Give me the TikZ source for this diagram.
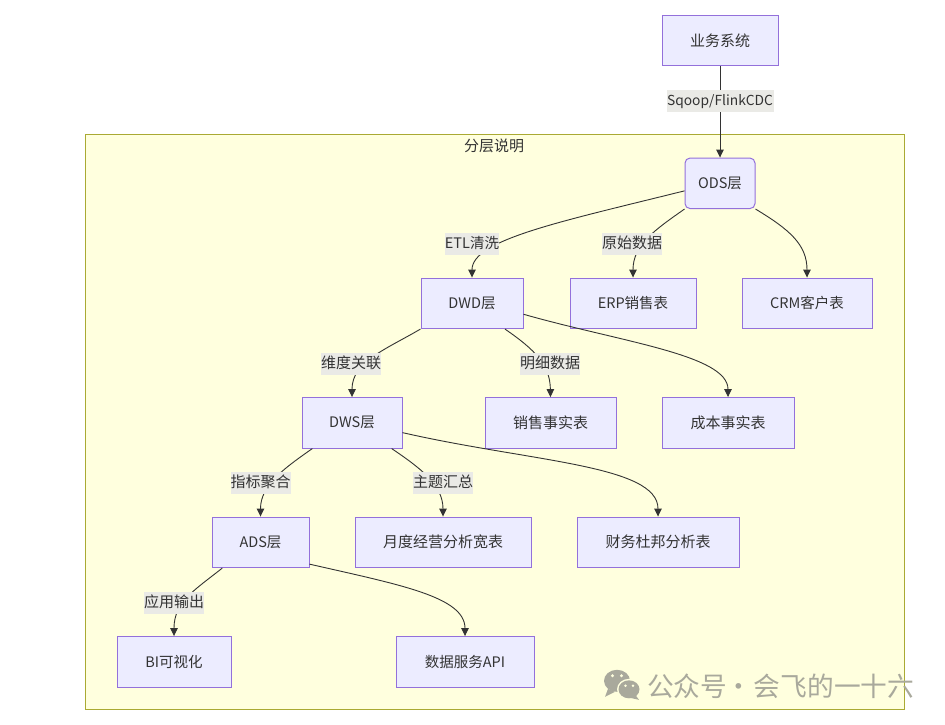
\documentclass[tikz,border=0pt]{standalone}
\usepackage{fontspec}
\setmainfont{Noto Sans CJK SC}
\usepackage{tikz}
\usetikzlibrary{arrows.meta}
\definecolor{nodefill}{HTML}{ECECFF}
\definecolor{nodeline}{HTML}{9370DB}
\definecolor{groupfill}{HTML}{FFFFDE}
\definecolor{groupline}{HTML}{AAAA33}
\definecolor{ink}{HTML}{333333}
\definecolor{labelfill}{HTML}{EAEAE6}
\definecolor{markgray}{HTML}{A9A99C}

\begin{document}
\begin{tikzpicture}[x=1pt,y=-1pt,
 font=\fontsize{15}{17}\selectfont,text=ink,
 mixed/.style={font=\fontsize{14.5}{17}\selectfont},
 main node/.style={rectangle,draw=nodeline,fill=nodefill,line width=1pt,inner sep=0pt,minimum height=50.5pt},
 round node/.style={main node,rounded corners=5pt},
 edge label/.style={fill=labelfill,inner sep=0pt,minimum height=22pt,text height=12pt,text depth=3pt,yshift=-0.5pt},
 flow/.style={draw=ink,line width=0.9pt,-{Triangle[length=8pt,width=7.5pt]}}]
  \useasboundingbox (0,0.2) rectangle (945,724.2);
  \node[draw=groupline,fill=groupfill,line width=1pt,inner sep=0pt,minimum width=819pt,minimum height=575pt] (group) at (494.5,422.5) {};
  \node (grouptitle) at (494,146) {分层说明};

  \node[main node,minimum width=116pt] (biz) at (720,40.5) {业务系统};
  \node[round node,mixed,minimum width=70pt] (ods) at (720,183.5) {ODS层};
  \node[main node,mixed,minimum width=102pt] (dwd) at (472,303.5) {DWD层};
  \node[main node,mixed,minimum width=126pt] (erp) at (633,303.5) {ERP销售表};
  \node[main node,mixed,minimum width=130pt] (crm) at (807,303.5) {CRM客户表};
  \node[main node,mixed,minimum width=100pt] (dws) at (352,423) {DWS层};
  \node[main node,minimum width=131pt] (sale) at (550.5,423) {销售事实表};
  \node[main node,minimum width=132pt] (cost) at (728,423) {成本事实表};
  \node[main node,mixed,minimum width=97pt] (ads) at (260.5,542.5) {ADS层};
  \node[main node,minimum width=176pt] (month) at (443,542.5) {月度经营分析宽表};
  \node[main node,minimum width=162pt] (dupont) at (658,542.5) {财务杜邦分析表};
  \node[main node,mixed,minimum width=114pt] (bi) at (174,662) {BI可视化};
  \node[main node,mixed,minimum width=138pt] (api) at (465,662) {数据服务API};

  \path[flow] (biz) -- (ods);
  \foreach \s/\t/\a/\b in {ods.192/dwd.north/{560,222}/{472,240},
    ods.south west/erp.north/{655,230}/{633,245},
    ods.south east/crm.north/{790,230}/{807,245},
    dwd.south west/dws.north/{385,350}/{352,362},
    dwd.-38/sale.north/{535,350}/{550,365},
    dwd.-12/cost.north/{620,342}/{728,355},
    dws.-147/ads.north/{285,468}/{260.5,485},
    dws.-33/month.north/{420,468}/{443,485},
    dws.-11/dupont.north/{530,462}/{658,465},
    ads.-146/bi.north/{195,590}/{174,602},
    ads.-24/api.north/{400,585}/{465,597}} {
   \path[flow] (\s) .. controls (\a) and (\b) .. (\t);}

  \node[edge label,minimum width=107pt,font=\fontsize{13.8}{17}\selectfont] (l1) at (720,101) {Sqoop/FlinkCDC};
  \node[edge label,mixed,minimum width=54pt] (l2) at (472,244) {ETL清洗};
  \node[edge label,minimum width=60pt] (l3) at (632,244) {原始数据};
  \node[edge label,minimum width=60pt] (l4) at (351,364) {维度关联};
  \node[edge label,minimum width=60pt] (l5) at (550,364) {明细数据};
  \node[edge label,minimum width=60pt] (l6) at (260.5,483) {指标聚合};
  \node[edge label,minimum width=60pt] (l7) at (443,483) {主题汇总};
  \node[edge label,minimum width=60pt] (l8) at (174,603) {应用输出};

  % watermark
  \fill[markgray] (617,681) ellipse (13pt and 11pt);
  \fill[markgray] (608,689) -- (605,697) -- (615,692) -- cycle;
  \fill[groupfill] (629,689.5) ellipse (12pt and 10.5pt);
  \fill[markgray] (629,689.5) ellipse (10.5pt and 9pt);
  \fill[markgray] (636,696) -- (639,700) -- (630,698) -- cycle;
  \fill[groupfill] (612.5,676) circle (1.6pt) (621.5,676) circle (1.6pt);
  \fill[groupfill] (625.5,686) circle (1.4pt) (633,686) circle (1.4pt);
  \node[anchor=west,inner sep=0pt,text=markgray,font=\fontsize{26.7}{30}\selectfont] (mark) at (647,686) {公众号\kern-2pt·\kern2pt会飞的一十六};
\end{tikzpicture}
\end{document}
